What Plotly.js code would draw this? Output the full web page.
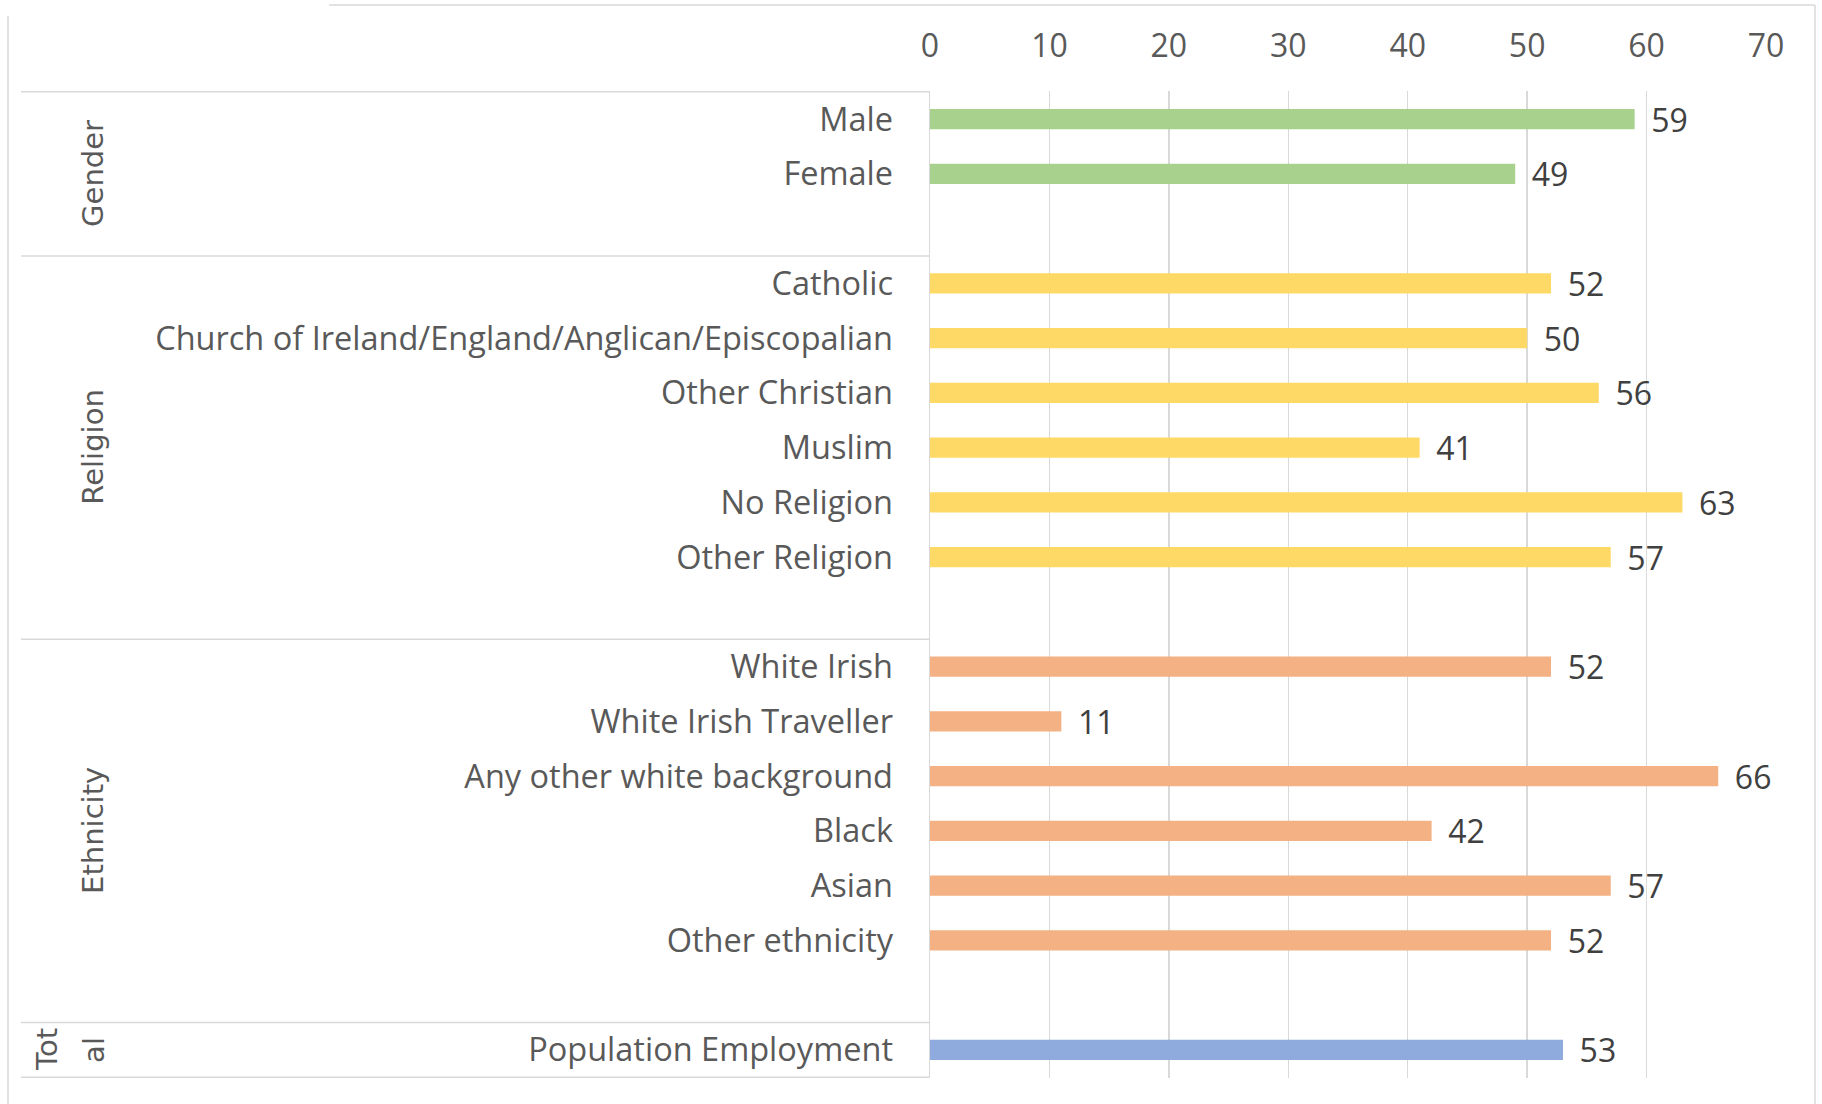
<!DOCTYPE html>
<html>
<head>
<meta charset="utf-8">
<script src="https://cdn.plot.ly/plotly-3.0.1.min.js"></script>
<style>html,body{margin:0;padding:0;background:#fff;}#chart{width:1822px;height:1104px;}</style>
</head>
<body>
<div id="chart"></div>
<script>
// ---- data ----
const genderCats = ['Male', 'Female'];
const genderVals = [59, 49];
const religionCats = ['Catholic', 'Church of Ireland/England/Anglican/Episcopalian', 'Other Christian', 'Muslim', 'No Religion', 'Other Religion'];
const religionVals = [52, 50, 56, 41, 63, 57];
const ethnicityCats = ['White Irish', 'White Irish Traveller', 'Any other white background', 'Black', 'Asian', 'Other ethnicity'];
const ethnicityVals = [52, 11, 66, 42, 57, 52];
const totalCats = ['Population Employment'];
const totalVals = [53];
const groupNames = ['Gender', 'Religion', 'Ethnicity'];
const totalLabelLines = ['Tot', 'al'];
const xTickVals = [0, 10, 20, 30, 40, 50, 60, 70];

// ---- styling ----
const colors = ['#A9D18E', '#FFD966', '#F4B183', '#8FAADC'];
const W = 1822, H = 1104;
const M = {l: 930, r: 56, t: 91, b: 26};
const plotW = W - M.l - M.r, plotH = H - M.t - M.b;
const px = v => (v - M.l) / plotW;       // pixel x -> paper x
const py = v => (H - M.b - v) / plotH;   // pixel y -> paper y

const categoryOrder = [...genderCats, ' ', ...religionCats, '  ', ...ethnicityCats, '   ', ...totalCats];

const groups = [
  [genderCats, genderVals],
  [religionCats, religionVals],
  [ethnicityCats, ethnicityVals],
  [totalCats, totalVals]
];

const labelFont = '"Open Sans", Lato, sans-serif';
const traces = groups.map((g, i) => ({
  type: 'bar',
  orientation: 'h',
  y: g[0],
  x: g[1],
  marker: {color: colors[i]},
  text: g[1].map(v => '\u00a0\u2009' + v),
  textposition: 'outside',
  constraintext: 'none',
  textfont: {family: labelFont, size: 32, color: '#404040'},
  cliponaxis: false,
  hoverinfo: 'x+y',
  showlegend: false
}));

// group boundaries (category index)
const bounds = [-0.5, 2.5, 9.5, 16.5, 17.5];
const groupCenters = [1, 6, 13];
const totalCenter = 17;
const lineCol = '#D9D9D9';

const shapes = bounds.map(b => ({
  type: 'line', xref: 'paper', yref: 'y',
  x0: px(21), x1: 0, y0: b, y1: b,
  line: {color: lineCol, width: 1.5}
}));
// outer frame
shapes.push({type: 'line', xref: 'paper', yref: 'paper', x0: px(8), x1: px(8), y0: py(16), y1: py(H), line: {color: lineCol, width: 1.5}});
shapes.push({type: 'line', xref: 'paper', yref: 'paper', x0: px(329), x1: px(1815), y0: py(5), y1: py(5), line: {color: lineCol, width: 1.5}});
shapes.push({type: 'line', xref: 'paper', yref: 'paper', x0: px(1815), x1: px(1815), y0: py(5), y1: py(H), line: {color: lineCol, width: 1.5}});

const groupFont = {family: 'DejaVu Sans, sans-serif', size: 29, color: '#595959'};
const annotations = groupNames.map((name, i) => ({
  text: name,
  xref: 'paper', yref: 'y',
  x: px(93), y: groupCenters[i],
  textangle: -90,
  showarrow: false,
  font: groupFont,
  xanchor: 'center', yanchor: 'middle'
}));
const totalXs = [47, 94];
totalLabelLines.forEach((t, i) => annotations.push({
  text: t,
  xref: 'paper', yref: 'y',
  x: px(totalXs[i]), y: totalCenter,
  textangle: -90,
  showarrow: false,
  font: groupFont,
  xanchor: 'center', yanchor: 'middle'
}));

const layout = {
  width: W, height: H,
  margin: M,
  paper_bgcolor: '#ffffff',
  plot_bgcolor: '#ffffff',
  barmode: 'overlay',
  bargap: 0.63,
  xaxis: {
    side: 'top',
    range: [0, 70],
    tickvals: xTickVals,
    ticktext: xTickVals.map(String),
    showgrid: true, gridcolor: lineCol, gridwidth: 1.5,
    zeroline: false, showline: false, ticks: '',
    ticklabelstandoff: 27,
    tickfont: {family: labelFont, size: 32, color: '#595959'},
    fixedrange: true
  },
  yaxis: {
    type: 'category',
    categoryorder: 'array',
    categoryarray: categoryOrder,
    autorange: 'reversed',
    showgrid: false, zeroline: false,
    showline: true, linecolor: lineCol, linewidth: 1.5,
    ticks: '',
    ticklabelstandoff: 29,
    tickfont: {family: labelFont, size: 32.5, color: '#595959'},
    fixedrange: true
  },
  shapes: shapes,
  annotations: annotations
};

Plotly.newPlot('chart', traces, layout, {displayModeBar: false, staticPlot: true});
</script>
</body>
</html>
